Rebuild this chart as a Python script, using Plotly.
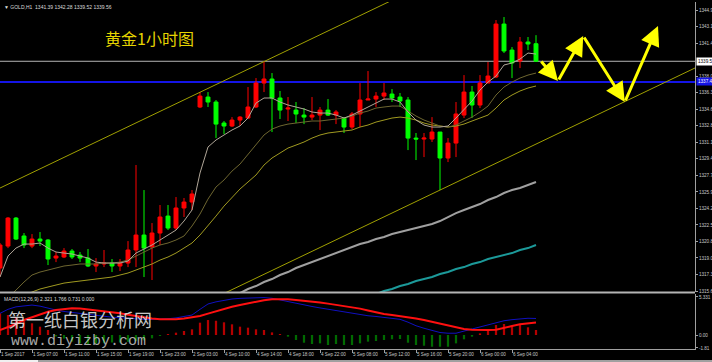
import plotly.graph_objects as go

# ---------------- data ----------------
bar_index = list(range(68))

opens = [1318.00, 1320.29, 1323.21, 1321.34, 1320.29, 1321.02, 1320.92, 1319.04, 1319.15, 1319.77,
         1319.35, 1319.04, 1318.21, 1318.42, 1318.52, 1318.21, 1318.52, 1319.88, 1321.44, 1320.19,
         1321.65, 1323.42, 1322.17, 1324.26, 1324.88, 1334.79, 1335.83, 1335.31, 1333.12, 1332.81,
         1333.43, 1333.64, 1334.79, 1337.29, 1337.71, 1335.73, 1334.58, 1334.47, 1333.95, 1333.74,
         1333.95, 1334.47, 1333.95, 1333.64, 1332.70, 1334.06, 1335.52, 1335.62, 1335.93, 1336.14,
         1335.83, 1335.52, 1331.55, 1331.45, 1331.45, 1332.18, 1329.47, 1331.03, 1333.95, 1336.35,
         1335.00, 1337.29, 1337.92, 1343.44, 1340.73, 1339.58, 1341.57, 1341.39]
highs = [1320.61, 1323.32, 1323.32, 1321.65, 1321.54, 1321.75, 1321.02, 1319.67, 1320.08, 1319.98,
         1319.67, 1319.98, 1319.04, 1319.88, 1318.94, 1318.94, 1320.81, 1328.74, 1326.13, 1322.69,
         1324.57, 1324.57, 1325.40, 1325.30, 1326.13, 1336.35, 1336.35, 1335.52, 1333.33, 1333.74,
         1333.85, 1336.87, 1337.81, 1339.58, 1338.33, 1336.46, 1335.83, 1335.31, 1334.68, 1335.83,
         1334.79, 1335.62, 1334.47, 1333.74, 1334.27, 1337.29, 1338.54, 1336.35, 1337.29, 1336.66,
         1336.25, 1335.83, 1332.08, 1332.08, 1333.74, 1332.18, 1331.55, 1335.31, 1338.12, 1336.98,
         1338.12, 1339.48, 1343.86, 1344.17, 1341.04, 1342.09, 1342.09, 1342.28]
lows = [1317.06, 1320.08, 1320.92, 1320.08, 1320.08, 1320.29, 1318.31, 1318.62, 1319.04, 1318.94,
        1318.62, 1318.10, 1317.58, 1318.10, 1317.58, 1317.69, 1318.10, 1318.10, 1317.06, 1316.75,
        1320.40, 1321.96, 1321.96, 1323.32, 1324.05, 1334.68, 1334.79, 1331.55, 1331.97, 1332.70,
        1332.81, 1333.54, 1334.68, 1336.35, 1332.18, 1333.54, 1333.33, 1333.12, 1333.01, 1333.43,
        1332.39, 1333.85, 1333.01, 1332.08, 1332.49, 1332.70, 1335.52, 1334.79, 1335.52, 1335.31,
        1334.79, 1330.30, 1329.26, 1329.57, 1331.14, 1326.13, 1329.05, 1329.57, 1333.64, 1333.64,
        1334.68, 1337.29, 1337.81, 1340.42, 1337.81, 1338.85, 1340.73, 1339.52]
closes = [1320.40, 1323.21, 1321.02, 1320.40, 1321.02, 1320.81, 1318.94, 1319.25, 1319.77, 1319.15,
          1319.04, 1318.21, 1318.42, 1318.52, 1318.21, 1318.52, 1319.88, 1321.44, 1320.08, 1321.65,
          1323.32, 1322.17, 1324.26, 1324.88, 1325.72, 1335.93, 1335.31, 1333.01, 1332.81, 1333.43,
          1333.74, 1334.79, 1337.29, 1337.71, 1335.73, 1334.47, 1334.68, 1334.06, 1333.74, 1333.95,
          1334.47, 1333.95, 1334.27, 1332.70, 1334.06, 1335.52, 1335.62, 1335.93, 1336.25, 1335.73,
          1335.41, 1331.55, 1331.45, 1331.55, 1332.18, 1329.47, 1331.03, 1334.06, 1336.35, 1335.00,
          1337.29, 1338.02, 1343.44, 1340.63, 1339.38, 1341.57, 1341.36, 1339.56]

ma_fast = [1317.06, 1319.25, 1320.08, 1320.50, 1320.50, 1320.61, 1320.08, 1319.67, 1319.56, 1319.46,
           1319.25, 1319.04, 1318.62, 1318.52, 1318.52, 1318.52, 1318.73, 1319.56, 1319.98, 1320.40,
           1320.92, 1321.44, 1321.96, 1322.90, 1324.05, 1327.91, 1330.62, 1331.35, 1331.87, 1332.39,
           1332.81, 1333.64, 1335.20, 1335.73, 1335.73, 1335.31, 1335.00, 1334.79, 1334.58, 1334.27,
           1334.16, 1334.16, 1333.95, 1333.64, 1333.95, 1334.37, 1334.79, 1335.20, 1335.62, 1335.62,
           1335.31, 1334.27, 1333.43, 1332.91, 1332.70, 1332.70, 1332.81, 1333.64, 1334.58, 1335.41,
           1336.56, 1337.39, 1338.02, 1339.17, 1339.38, 1339.79, 1340.42, 1340.31]
ma_mid = [1314.14, 1314.87, 1315.70, 1316.54, 1317.27, 1317.58, 1317.79, 1318.00, 1318.21, 1318.31,
          1318.42, 1318.42, 1318.42, 1318.52, 1318.52, 1318.62, 1318.83, 1319.25, 1319.67, 1320.08,
          1320.40, 1320.61, 1320.92, 1321.34, 1322.38, 1323.63, 1325.19, 1326.45, 1327.18, 1328.11,
          1328.84, 1329.89, 1330.82, 1331.87, 1332.49, 1332.81, 1333.01, 1333.12, 1333.22, 1333.33,
          1333.33, 1333.43, 1333.54, 1333.64, 1333.85, 1334.16, 1334.37, 1334.68, 1334.79, 1334.89,
          1334.89, 1334.37, 1333.85, 1333.43, 1333.12, 1332.81, 1332.70, 1332.91, 1333.33, 1333.74,
          1334.27, 1334.89, 1336.04, 1336.87, 1337.39, 1337.81, 1338.12, 1338.33]
ma_slow = [1313.62, 1314.14, 1314.66, 1315.08, 1315.50, 1315.81, 1316.02, 1316.23, 1316.43, 1316.54,
           1316.64, 1316.75, 1316.85, 1316.96, 1317.06, 1317.27, 1317.48, 1317.79, 1318.10, 1318.42,
           1318.83, 1319.15, 1319.56, 1320.08, 1320.61, 1321.44, 1322.38, 1323.42, 1324.46, 1325.40,
           1326.24, 1326.97, 1327.70, 1328.74, 1329.47, 1329.99, 1330.51, 1330.82, 1331.14, 1331.55,
           1331.87, 1332.08, 1332.18, 1332.28, 1332.39, 1332.70, 1332.91, 1333.22, 1333.43, 1333.64,
           1333.74, 1333.64, 1333.43, 1333.12, 1332.91, 1332.81, 1332.70, 1332.81, 1333.01, 1333.33,
           1333.64, 1333.95, 1334.68, 1335.52, 1336.04, 1336.46, 1336.77, 1336.98]
ma_grey_idx = list(range(30, 68))
ma_grey = [1315.39, 1315.81, 1316.12, 1316.54, 1316.85, 1317.27, 1317.58, 1318.00, 1318.31, 1318.62,
           1318.94, 1319.25, 1319.56, 1319.88, 1320.19, 1320.50, 1320.71, 1321.02, 1321.23, 1321.54,
           1321.75, 1321.96, 1322.17, 1322.38, 1322.59, 1322.90, 1323.32, 1323.73, 1324.05, 1324.36,
           1324.67, 1325.09, 1325.40, 1325.82, 1326.13, 1326.34, 1326.65, 1326.97]
ma_teal_idx = list(range(47, 68))
ma_teal = [1315.29, 1315.60, 1315.81, 1316.12, 1316.33, 1316.64, 1316.85, 1317.06, 1317.37, 1317.58,
           1317.89, 1318.10, 1318.42, 1318.62, 1318.94, 1319.15, 1319.35, 1319.56, 1319.88, 1320.08,
           1320.40]

macd_hist = [3.05, 2.8, 2.48, 2.0, 1.64, 1.17, 0.7,
             -0.2, -0.5, -0.93, -1.17, -1.26, -1.2, -1.15, -1.05, -1.05, -0.95, -0.84, -0.75, -0.47, -0.14,
             0.14, 0.33, 0.56, 0.8, 1.73, 2.1, 2.0, 1.78, 1.5, 1.17, 1.03, 0.8, 0.7, 0.37, 0.14,
             -0.23, -0.7, -1.08, -1.26, -1.17, -1.4, -1.26, -1.4, -1.4, -1.17, -0.93, -0.84, -0.7, -0.6,
             -0.56, -1.08, -1.4, -1.5, -1.64, -1.64, -1.64, -1.17, -0.6, -0.23,
             0.23, 0.7, 1.4, 1.54, 1.26, 1.4, 1.08, 0.7]
macd_dif = [3.04, 3.6, 3.95, 4.12, 4.2, 4.05, 3.75, 3.5, 3.3, 3.15, 3.04, 2.9, 2.72, 2.6, 2.5, 2.43, 2.33,
            2.25, 2.2, 2.18, 2.2, 2.28, 2.4, 2.55, 2.8, 3.6, 4.35, 4.65, 4.9, 5.05, 5.14, 5.2, 5.27, 5.25,
            5.15, 4.9, 4.7, 4.45, 4.2, 4.0, 3.8, 3.6, 3.4, 3.2, 3.0, 2.8, 2.7, 2.6, 2.5, 2.35, 2.2, 1.8,
            1.3, 0.95, 0.65, 0.35, 0.25, 0.25, 0.55, 0.85, 1.1, 1.4, 1.75, 2.0, 2.15, 2.3, 2.35, 2.32]
macd_dea = [0.7, 1.1, 1.55, 2.1, 2.5, 2.9, 3.25, 3.5, 3.65, 3.74, 3.7, 3.58, 3.45, 3.3, 3.17, 3.04, 2.85,
            2.66, 2.45, 2.3, 2.2, 2.18, 2.2, 2.3, 2.45, 2.67, 3.0, 3.35, 3.7, 3.95, 4.21, 4.45, 4.7, 4.88,
            5.0, 5.02, 5.0, 4.92, 4.82, 4.7, 4.55, 4.4, 4.25, 4.1, 3.9, 3.7, 3.45, 3.15, 2.95, 2.8, 2.66,
            2.5, 2.3, 2.1, 1.85, 1.64, 1.35, 1.05, 0.85, 0.75, 0.7, 0.7, 0.75, 0.95, 1.25, 1.5, 1.65, 1.77]

# drawn objects (analysis)
channel_upper_idx = [0, 50]
channel_upper_price = [1326.34, 1346.32]
channel_lower_idx = [25, 87]
channel_lower_price = [1314.15, 1338.91]
forecast_idx = [67.5, 69.75, 72.9, 78.1, 82.25]
forecast_price = [1339.69, 1337.50, 1342.19, 1335.31, 1343.23]
current_price = 1339.56
current_label = "1339.5"
level_price = 1337.40
level_label = "1337.4"

# axis ticks
x_tick_idx = [0, 4, 8, 12, 16, 20, 24, 28, 32, 36, 40, 44, 48, 52, 56, 60, 64]
x_tick_text = ["1 Sep 2017", "1 Sep 07:00", "1 Sep 11:00", "1 Sep 15:00", "1 Sep 19:00",
               "1 Sep 23:00", "2 Sep 03:00", "4 Sep 10:00", "4 Sep 14:00", "4 Sep 18:00",
               "4 Sep 22:00", "5 Sep 08:00", "5 Sep 12:00", "5 Sep 16:00", "5 Sep 20:00",
               "6 Sep 00:00", "6 Sep 04:00"]
y_tick_vals = [1315.60, 1317.32, 1319.05, 1320.77, 1322.49, 1324.22, 1325.94, 1327.66, 1329.39,
               1331.11, 1332.84, 1334.56, 1336.28, 1338.01, 1341.45, 1343.18, 1344.90]
y_tick_text = ["1315.6", "1317.3", "1319.0", "1320.8", "1322.5", "1324.2", "1325.9",
               "1327.7", "1329.4", "1331.1", "1332.8", "1334.6", "1336.3", "1338.0",
               "1341.4", "1343.1", "1344.9"]
macd_tick_vals = [5.331, 0.0, -1.81]
macd_tick_text = ["5.331", "0.00", "-1.81"]

# ---------------- figure ----------------
W, H = 712, 362
ML, MR, MT, MB = 0, 17, 2, 13
plot_h = H - MT - MB


def py(p):  # pixel row -> paper y
    return (H - MB - p) / plot_h


def px(p):  # pixel column -> paper x
    return (p - ML) / (W - ML - MR)


fig = go.Figure()

fig.add_trace(go.Scatter(x=channel_upper_idx, y=channel_upper_price, mode="lines",
                         line=dict(color="#A0A000", width=1), hoverinfo="skip"))
fig.add_trace(go.Scatter(x=channel_lower_idx, y=channel_lower_price, mode="lines",
                         line=dict(color="#A0A000", width=1), hoverinfo="skip"))
fig.add_trace(go.Scatter(x=ma_grey_idx, y=ma_grey, mode="lines",
                         line=dict(color="#A0A0A0", width=2), hoverinfo="skip"))
fig.add_trace(go.Scatter(x=ma_teal_idx, y=ma_teal, mode="lines",
                         line=dict(color="#1C9A9A", width=2), hoverinfo="skip"))
fig.add_trace(go.Scatter(x=bar_index, y=ma_slow, mode="lines",
                         line=dict(color="#A09A20", width=1), hoverinfo="skip"))
fig.add_trace(go.Scatter(x=bar_index, y=ma_mid, mode="lines",
                         line=dict(color="#6E6630", width=1), hoverinfo="skip"))
fig.add_trace(go.Scatter(x=bar_index, y=ma_fast, mode="lines",
                         line=dict(color="#B0A698", width=1), hoverinfo="skip"))

fig.add_trace(go.Candlestick(
    x=bar_index, open=opens, high=highs, low=lows, close=closes,
    increasing=dict(line=dict(color="#FF0000", width=1), fillcolor="#FF0000"),
    decreasing=dict(line=dict(color="#00FF00", width=1), fillcolor="#00FF00"),
    whiskerwidth=0, hoverinfo="skip", xaxis="x", yaxis="y"))

hist_colors = ["#B40000" if v >= 0 else "#006A00" for v in macd_hist]
fig.add_trace(go.Bar(x=bar_index, y=macd_hist, width=0.28, marker=dict(color=hist_colors, line=dict(width=0)),
                     xaxis="x2", yaxis="y2", hoverinfo="skip"))
fig.add_trace(go.Scatter(x=bar_index, y=macd_dif, mode="lines", line=dict(color="#1010C0", width=1),
                         xaxis="x2", yaxis="y2", hoverinfo="skip"))
fig.add_trace(go.Scatter(x=bar_index, y=macd_dea, mode="lines", line=dict(color="#FF1010", width=2),
                         xaxis="x2", yaxis="y2", hoverinfo="skip"))

xr = [0, (W - ML - MR) / 8.0]
main_bottom = py(292)
macd_top = py(294)

axis_common = dict(showgrid=False, zeroline=False, fixedrange=True)
fig.update_layout(
    width=W, height=H, margin=dict(l=ML, r=MR, t=MT, b=MB),
    paper_bgcolor="#000000", plot_bgcolor="#000000", showlegend=False,
    font=dict(family="Liberation Sans", color="#C8C8C8", size=5),
    xaxis=dict(domain=[0, 1], range=xr, anchor="y", showticklabels=False, ticks="",
               rangeslider=dict(visible=False), **axis_common),
    yaxis=dict(domain=[main_bottom, 1], range=[1315.50, 1345.74], side="right",
               tickvals=y_tick_vals, ticktext=y_tick_text, ticks="outside", ticklen=2,
               tickcolor="#A0A0A0", showline=True, linecolor="#A0A0A0", linewidth=1,
               tickfont=dict(size=4.6, color="#C8C8C8"), **axis_common),
    xaxis2=dict(domain=[0, 1], range=xr, anchor="y2", tickvals=x_tick_idx, ticktext=x_tick_text,
                ticks="outside", ticklen=3, tickcolor="#A0A0A0", ticklabelposition="outside right",
                tickangle=0, showline=True, linecolor="#A0A0A0", linewidth=1,
                tickfont=dict(size=4.6, color="#C8C8C8"), **axis_common),
    yaxis2=dict(domain=[0, macd_top], range=[-1.96, 5.75], side="right", anchor="x2",
                tickvals=macd_tick_vals, ticktext=macd_tick_text, ticks="outside", ticklen=2,
                tickcolor="#A0A0A0", showline=True, linecolor="#A0A0A0", linewidth=1,
                tickfont=dict(size=4.6, color="#C8C8C8"), **axis_common),
)

shapes = [
    dict(type="line", xref="x domain", x0=0, x1=1, yref="y", y0=current_price, y1=current_price,
         line=dict(color="#B4B4B4", width=1), layer="below"),
    dict(type="line", xref="x domain", x0=0, x1=1, yref="y", y0=level_price, y1=level_price,
         line=dict(color="#1414E6", width=2), layer="below"),
    dict(type="rect", xref="paper", x0=0, x1=1, yref="paper", y0=py(293.6), y1=py(291.6),
         fillcolor="#B4B4B4", line=dict(width=0)),
    dict(type="rect", xref="paper", x0=0, x1=px(712), yref="paper", y0=py(362), y1=py(360),
         fillcolor="#A0A0A0", line=dict(width=0)),
    dict(type="rect", xref="paper", x0=0, x1=px(38), yref="paper", y0=py(362), y1=py(360),
         fillcolor="#F0F0F0", line=dict(width=0)),
]
fig.update_layout(shapes=shapes)

annotations = []
for k in range(len(forecast_idx) - 1):
    annotations.append(dict(
        x=forecast_idx[k + 1], y=forecast_price[k + 1], xref="x", yref="y",
        ax=forecast_idx[k], ay=forecast_price[k], axref="x", ayref="y",
        showarrow=True, arrowhead=2, arrowsize=1.3, arrowwidth=3, arrowcolor="#FFFF00", text=""))

annotations += [
    dict(text="▼ GOLD,H1  1341.39 1342.28 1339.52 1339.56", x=px(2), y=py(7), xref="paper", yref="paper",
         xanchor="left", yanchor="middle", showarrow=False, font=dict(size=5, color="#DCDCDC")),
    dict(text="黄金1小时图", x=px(149), y=py(38.5), xref="paper", yref="paper", xanchor="center",
         yanchor="middle", showarrow=False,
         font=dict(family="Noto Sans CJK SC", size=16, color="#E6D400")),
    dict(text="MACD(12,26,9) 2.321 1.766 0.731 0.000", x=px(2), y=py(298.5), xref="paper", yref="paper",
         xanchor="left", yanchor="middle", showarrow=False, font=dict(size=5, color="#DCDCDC")),
    dict(text="第一纸白银分析网", x=px(80), y=py(318.5), xref="paper", yref="paper", xanchor="center",
         yanchor="middle", showarrow=False,
         font=dict(family="Noto Sans CJK SC", size=18, color="rgba(235,235,235,0.85)")),
    dict(text="www.diyizby.com", x=px(78), y=py(341.5), xref="paper", yref="paper", xanchor="center",
         yanchor="middle", showarrow=False,
         font=dict(family="Liberation Mono", size=15, color="rgba(200,200,200,0.85)")),
    dict(text=current_label, x=1, y=current_price, xref="paper", yref="y", xanchor="left",
         yanchor="middle", xshift=1, showarrow=False, bgcolor="#FFFFFF", borderpad=1,
         font=dict(size=4.6, color="#000000")),
    dict(text=level_label, x=1, y=level_price, xref="paper", yref="y", xanchor="left",
         yanchor="middle", xshift=1, showarrow=False, bgcolor="#1414E6", borderpad=1,
         font=dict(size=4.6, color="#FFFFFF")),
]
fig.update_layout(annotations=annotations)

fig.write_html("out.html", config={"displayModeBar": False, "staticPlot": True},
               post_script="document.body.style.margin='0px';document.body.style.overflow='hidden';")
